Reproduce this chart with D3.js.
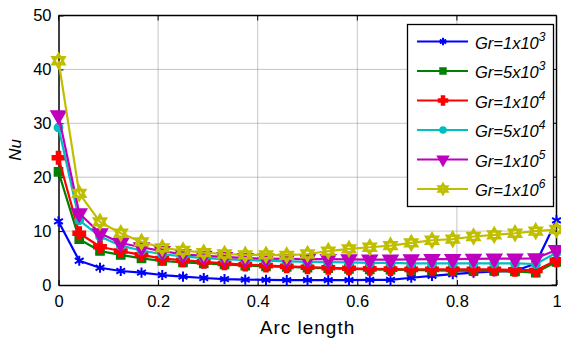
<!DOCTYPE html>
<html>
<head>
<meta charset="utf-8">
<script src="https://cdn.jsdelivr.net/npm/d3@7"></script>
<style>
  html, body { margin: 0; padding: 0; background: #fff; }
  svg { display: block; font-family: "Liberation Sans", Arial, sans-serif; }
</style>
</head>
<body>
<svg id="chart" width="561" height="341"></svg>
<script>
// ---- data ----
const arcLength = d3.range(25).map(i => i / 24);
const seriesNames = ["1x10|3", "5x10|3", "1x10|4", "5x10|4", "1x10|5", "1x10|6"];
const gr1e3 = [11.8, 4.5, 3.2, 2.6, 2.3, 1.85, 1.55, 1.3, 1.1, 1.0, 0.95, 0.9, 0.9, 0.9, 0.9, 0.95, 0.95, 1.35, 1.7, 2.0, 2.3, 2.5, 2.6, 4.0, 12.0];
const gr5e3 = [21.0, 8.5, 6.3, 5.6, 4.95, 4.45, 4.2, 4.0, 3.8, 3.6, 3.45, 3.35, 3.2, 3.1, 3.0, 2.9, 2.85, 2.8, 2.7, 2.65, 2.6, 2.6, 2.5, 2.3, 4.3];
const gr1e4 = [23.6, 9.6, 7.1, 6.3, 5.6, 4.9, 4.6, 4.3, 4.0, 3.8, 3.6, 3.45, 3.3, 3.2, 3.1, 3.0, 2.95, 2.9, 2.9, 2.9, 2.9, 2.9, 2.8, 2.7, 4.6];
const gr5e4 = [29.2, 12.0, 9.0, 7.3, 6.4, 5.7, 5.3, 5.0, 4.8, 4.6, 4.5, 4.4, 4.3, 4.25, 4.2, 4.1, 4.1, 4.0, 4.0, 4.0, 4.0, 4.0, 4.0, 3.9, 6.0];
const gr1e5 = [31.5, 13.3, 9.6, 7.8, 7.0, 6.3, 5.7, 5.4, 5.2, 5.0, 4.9, 4.85, 4.8, 4.8, 4.75, 4.7, 4.7, 4.75, 4.8, 4.8, 4.85, 4.9, 4.9, 4.95, 6.5];
const gr1e6 = [41.6, 17.0, 11.7, 9.6, 8.0, 6.9, 6.4, 6.0, 5.75, 5.6, 5.6, 5.5, 5.75, 6.3, 6.7, 7.0, 7.3, 7.8, 8.3, 8.5, 9.0, 9.3, 9.6, 10.0, 10.3];
const xTicks = [0, 0.2, 0.4, 0.6, 0.8, 1];
const xTickLabels = ["0", "0.2", "0.4", "0.6", "0.8", "1"];
const yTicks = [0, 10, 20, 30, 40, 50];
const colors = ["#0000ff", "#008000", "#ff0000", "#00bfbf", "#bf00bf", "#bfbf00"];
const markers = ["asterisk", "square", "cross", "circle", "triangleDown", "hexagram"];

const allSeries = [gr1e3, gr5e3, gr1e4, gr5e4, gr1e5, gr1e6].map((v, k) => ({
  name: seriesNames[k], values: v, color: colors[k], marker: markers[k]
}));

// ---- layout ----
const svg = d3.select("#chart");
const L = 58.5, R = 556.5, T = 15.5, B = 285;
const x = d3.scaleLinear().domain([0, 1]).range([L, R]);
const y = d3.scaleLinear().domain([0, 50]).range([B, T]);

// grid
const grid = svg.append("g");
grid.selectAll(".gx").data(xTicks.slice(1, -1)).join("line")
  .attr("x1", d => x(d)).attr("x2", d => x(d)).attr("y1", T).attr("y2", B)
  .attr("stroke", "#8c8c8c").attr("stroke-width", 1).attr("stroke-dasharray", "1,1");
grid.selectAll(".gy").data(yTicks.slice(1, -1)).join("line")
  .attr("x1", L).attr("x2", R).attr("y1", d => y(d)).attr("y2", d => y(d))
  .attr("stroke", "#8c8c8c").attr("stroke-width", 1).attr("stroke-dasharray", "1,1");

// axes
const xAxis = d3.axisBottom(x).tickValues(xTicks).tickFormat((d, i) => xTickLabels[i]).tickSizeInner(-5).tickSizeOuter(0).tickPadding(10);
const yAxis = d3.axisLeft(y).tickValues(yTicks).tickSizeInner(-5).tickSizeOuter(0).tickPadding(7);
const gx = svg.append("g").attr("transform", `translate(0,${B})`).call(xAxis);
const gy = svg.append("g").attr("transform", `translate(${L},0)`).call(yAxis);
[gx, gy].forEach(g => {
  g.select(".domain").attr("stroke", "#000").attr("stroke-width", 1.5);
  g.selectAll(".tick line").attr("stroke", "#000");
  g.selectAll(".tick text").attr("fill", "#000").style("font-size", "16.5px").style("font-family", "'Liberation Sans', Arial, sans-serif");
});
// top & right ticks
svg.append("g").selectAll("line").data(xTicks).join("line")
  .attr("x1", d => x(d)).attr("x2", d => x(d)).attr("y1", T).attr("y2", T + 5).attr("stroke", "#000");
svg.append("g").selectAll("line").data(yTicks).join("line")
  .attr("x1", R - 5).attr("x2", R).attr("y1", d => y(d)).attr("y2", d => y(d)).attr("stroke", "#000");
// frame top & right
svg.append("line").attr("x1", L).attr("x2", R).attr("y1", T).attr("y2", T).attr("stroke", "#000").attr("stroke-width", 1.5);
svg.append("line").attr("x1", R).attr("x2", R).attr("y1", T).attr("y2", B).attr("stroke", "#000").attr("stroke-width", 1.5);

// markers
function markerPath(type, s) {
  switch (type) {
    case "asterisk": return d3.symbol(d3.symbolAsterisk, s * s * 0.6)();
    case "square": return d3.symbol(d3.symbolSquare, s * s * 0.55)();
    case "cross": return d3.symbol(d3.symbolCross, s * s * 0.7)();
    case "circle": return d3.symbol(d3.symbolCircle, s * s * 0.45)();
    case "triangleDown": return d3.symbol(d3.symbolTriangle, s * s * 0.8)();
    case "hexagram": {
      const r = s * 0.62;
      const t1 = d3.range(3).map(i => [r * Math.sin(i * 2 * Math.PI / 3), -r * Math.cos(i * 2 * Math.PI / 3)]);
      const t2 = t1.map(p => [p[0], -p[1]]);
      return "M" + t1.join("L") + "Z" + "M" + t2.join("L") + "Z";
    }
  }
}
function drawMarker(g, type, color, s) {
  const p = g.append("path").attr("d", markerPath(type, s));
  if (type === "asterisk") {
    p.attr("fill", "none").attr("stroke", color).attr("stroke-width", 2);
  } else if (type === "hexagram") {
    p.attr("fill", color).attr("fill-opacity", 0.55).attr("stroke", color).attr("stroke-width", 2.5).attr("stroke-linejoin", "miter");
  } else {
    p.attr("fill", color).attr("stroke", color).attr("stroke-width", 1.5);
    if (type === "triangleDown") p.attr("transform", "rotate(180)");
  }
}

const line = d3.line().x((d, i) => x(arcLength[i])).y(d => y(d));
const plot = svg.append("g");
allSeries.forEach(s => {
  const g = plot.append("g");
  g.append("path").attr("d", line(s.values)).attr("fill", "none")
    .attr("stroke", s.color).attr("stroke-width", 2.2).attr("stroke-linejoin", "round");
  s.values.forEach((v, i) => {
    const mg = g.append("g").attr("transform", `translate(${x(arcLength[i])},${y(v)})`);
    drawMarker(mg, s.marker, s.color, 11);
  });
});

// legend
const lg = svg.append("g");
lg.append("rect").attr("x", 407.5).attr("y", 24.5).attr("width", 146).attr("height", 182)
  .attr("fill", "#fff").attr("stroke", "#000").attr("stroke-width", 1.3);
allSeries.forEach((s, k) => {
  const yy = 41.5 + k * 29.5;
  lg.append("line").attr("x1", 417).attr("x2", 468).attr("y1", yy).attr("y2", yy)
    .attr("stroke", s.color).attr("stroke-width", 2.2);
  const mg = lg.append("g").attr("transform", `translate(443,${yy})`);
  drawMarker(mg, s.marker, s.color, 8);
  const parts = s.name.split("|");
  const t = lg.append("text").attr("x", 475).attr("y", yy + 7)
    .style("font-size", "16.5px").style("font-style", "italic").attr("fill", "#000");
  t.append("tspan").text("Gr=" + parts[0]);
  t.append("tspan").attr("dy", -8).style("font-size", "12px").text(parts[1]);
});

// axis labels
svg.append("text").attr("x", (L + R) / 2).attr("y", 334).attr("text-anchor", "middle")
  .style("font-size", "19px").style("letter-spacing", "1px").attr("fill", "#000").text("Arc length");
svg.append("text").attr("transform", `translate(21,150) rotate(-90)`).attr("text-anchor", "middle")
  .style("font-size", "17px").style("font-style", "italic").attr("fill", "#000").text("Nu");
</script>
</body>
</html>
